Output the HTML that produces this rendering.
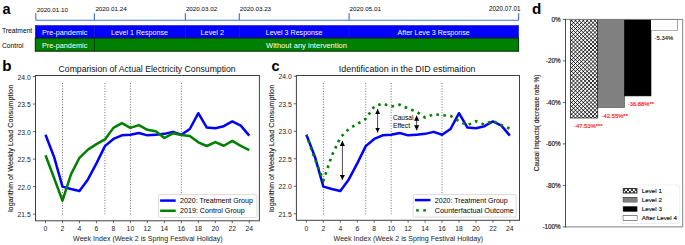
<!DOCTYPE html>
<html><head><meta charset="utf-8"><title>figure</title>
<style>
html,body{margin:0;padding:0;background:#fff;}
body{width:685px;height:245px;overflow:hidden;font-family:"Liberation Sans",sans-serif;}
svg{display:block;}
text{font-family:"Liberation Sans",sans-serif;}
</style></head><body>
<svg width="685" height="245" viewBox="0 0 685 245">
<defs>
<marker id="ah" viewBox="0 0 10 10" refX="10" refY="5" markerWidth="5.1" markerHeight="5.1" markerUnits="userSpaceOnUse" orient="auto-start-reverse"><path d="M0 0 L10 5 L0 10 Z" fill="#000"/></marker>
</defs>
<rect width="685" height="245" fill="#fff"/>

<g id="panel-a">
<text x="2.6" y="13.6" font-size="14.5" font-weight="bold" fill="#000">a</text>
<path d="M35.8 20.2 H518.6 M35.8 13.2 V20.2 M94.4 13.2 V20.2 M185.4 13.2 V20.2 M239.3 13.2 V20.2 M349.1 13.2 V20.2 M518.6 13.2 V20.2" stroke="#4472c4" stroke-width="1.15" fill="none"/>
<text x="36.7" y="11.9" font-size="6.25" fill="#000">2020.01.10</text>
<text x="95.4" y="11.2" font-size="6.25" fill="#000">2020.01.24</text>
<text x="185.9" y="10.6" font-size="6.25" fill="#000">2020.03.02</text>
<text x="239.8" y="10.6" font-size="6.25" fill="#000">2020.03.23</text>
<text x="349.6" y="10.6" font-size="6.25" fill="#000">2020.05.01</text>
<text x="520.4" y="11.3" font-size="6.3" text-anchor="end" fill="#000">2020.07.01</text>
<rect x="35.3" y="25.5" width="483.3" height="12.6" fill="#0000ff" stroke="#1414b4" stroke-width="0.6"/>
<rect x="35.3" y="38.1" width="483.3" height="13.1" fill="#008000" stroke="#042604" stroke-width="1"/>
<path d="M94.4 25.5 V38.1 M185.4 25.5 V38.1 M239.3 25.5 V38.1 M349.1 25.5 V38.1" stroke="#2323b8" stroke-width="0.8"/>
<path d="M94.4 38.1 V51.2" stroke="#063006" stroke-width="0.9"/>
<text x="2.0" y="33.2" font-size="6.7" fill="#000">Treatment</text>
<text x="2.0" y="48.0" font-size="6.7" fill="#000">Control</text>
<text x="64.6" y="34.9" font-size="7.30" text-anchor="middle" fill="#fff">Pre-pandemic</text>
<text x="139.5" y="34.9" font-size="7.10" text-anchor="middle" fill="#fff">Level 1 Response</text>
<text x="212.3" y="34.9" font-size="7.30" text-anchor="middle" fill="#fff">Level 2</text>
<text x="294.1" y="34.9" font-size="7.10" text-anchor="middle" fill="#fff">Level 3 Response</text>
<text x="433.6" y="34.9" font-size="7.10" text-anchor="middle" fill="#fff">After Leve 3 Response</text>
<text x="64.6" y="47.6" font-size="7.30" text-anchor="middle" fill="#fff">Pre-pandemic</text>
<text x="306.5" y="47.6" font-size="7.55" text-anchor="middle" fill="#fff">Without any intervention</text>
</g>
<g>
<text x="2.3" y="71.4" font-size="15.2" font-weight="bold" fill="#000">b</text>
<text x="147.1" y="72.3" font-size="8.67" text-anchor="middle" fill="#111">Comparision of Actual Electricity Consumption</text>
<path d="M62.48 83 V214.3" stroke="#606060" stroke-width="0.9" stroke-dasharray="1 1.66" fill="none"/>
<path d="M104.93 83 V214.3" stroke="#606060" stroke-width="0.9" stroke-dasharray="1 1.66" fill="none"/>
<path d="M130.40 83 V214.3" stroke="#606060" stroke-width="0.9" stroke-dasharray="1 1.66" fill="none"/>
<path d="M181.34 83 V214.3" stroke="#606060" stroke-width="0.9" stroke-dasharray="1 1.66" fill="none"/>
<path d="M45.50 134.69 L53.99 156.68 L62.48 186.60 L70.97 189.04 L79.46 191.03 L87.95 179.40 L96.44 163.33 L104.93 146.16 L113.42 138.96 L121.91 135.35 L130.40 134.69 L138.89 133.08 L147.38 135.35 L155.87 134.69 L164.36 133.86 L172.85 131.86 L181.34 134.75 L189.83 128.98 L198.32 113.20 L206.81 127.60 L215.30 128.21 L223.79 126.21 L232.28 121.45 L240.77 125.66 L249.26 135.63" stroke="#0000ff" stroke-width="2.5" fill="none" stroke-linejoin="round"/>
<path d="M45.50 155.19 L53.99 177.74 L62.48 200.73 L70.97 174.41 L79.46 157.79 L87.95 149.65 L96.44 144.11 L104.93 139.40 L113.42 127.88 L121.91 123.06 L130.40 127.88 L138.89 125.11 L147.38 129.82 L155.87 131.20 L164.36 138.01 L172.85 133.31 L181.34 135.08 L189.83 135.96 L198.32 142.28 L206.81 145.99 L215.30 142.11 L223.79 145.77 L232.28 140.95 L240.77 145.94 L249.26 150.04" stroke="#008000" stroke-width="2.5" fill="none" stroke-linejoin="round"/>
<rect x="35.5" y="75.5" width="223.9" height="145.3" fill="none" stroke="#404040" stroke-width="1"/>
<path d="M35.5 214.15 h-2.6" stroke="#404040" stroke-width="0.8"/>
<text x="30.8" y="217.35" font-size="6.8" text-anchor="end" fill="#222">21.5</text>
<path d="M35.5 186.62 h-2.6" stroke="#404040" stroke-width="0.8"/>
<text x="30.8" y="189.82" font-size="6.8" text-anchor="end" fill="#222">22.0</text>
<path d="M35.5 159.10 h-2.6" stroke="#404040" stroke-width="0.8"/>
<text x="30.8" y="162.30" font-size="6.8" text-anchor="end" fill="#222">22.5</text>
<path d="M35.5 131.57 h-2.6" stroke="#404040" stroke-width="0.8"/>
<text x="30.8" y="134.77" font-size="6.8" text-anchor="end" fill="#222">23.0</text>
<path d="M35.5 104.05 h-2.6" stroke="#404040" stroke-width="0.8"/>
<text x="30.8" y="107.25" font-size="6.8" text-anchor="end" fill="#222">23.5</text>
<path d="M35.5 76.53 h-2.6" stroke="#404040" stroke-width="0.8"/>
<text x="30.8" y="79.73" font-size="6.8" text-anchor="end" fill="#222">24.0</text>
<path d="M45.50 220.8 v2.4" stroke="#404040" stroke-width="0.8"/>
<text x="45.50" y="230.8" font-size="6.8" text-anchor="middle" fill="#222">0</text>
<path d="M62.48 220.8 v2.4" stroke="#404040" stroke-width="0.8"/>
<text x="62.48" y="230.8" font-size="6.8" text-anchor="middle" fill="#222">2</text>
<path d="M79.46 220.8 v2.4" stroke="#404040" stroke-width="0.8"/>
<text x="79.46" y="230.8" font-size="6.8" text-anchor="middle" fill="#222">4</text>
<path d="M96.44 220.8 v2.4" stroke="#404040" stroke-width="0.8"/>
<text x="96.44" y="230.8" font-size="6.8" text-anchor="middle" fill="#222">6</text>
<path d="M113.42 220.8 v2.4" stroke="#404040" stroke-width="0.8"/>
<text x="113.42" y="230.8" font-size="6.8" text-anchor="middle" fill="#222">8</text>
<path d="M130.40 220.8 v2.4" stroke="#404040" stroke-width="0.8"/>
<text x="130.40" y="230.8" font-size="6.8" text-anchor="middle" fill="#222">10</text>
<path d="M147.38 220.8 v2.4" stroke="#404040" stroke-width="0.8"/>
<text x="147.38" y="230.8" font-size="6.8" text-anchor="middle" fill="#222">12</text>
<path d="M164.36 220.8 v2.4" stroke="#404040" stroke-width="0.8"/>
<text x="164.36" y="230.8" font-size="6.8" text-anchor="middle" fill="#222">14</text>
<path d="M181.34 220.8 v2.4" stroke="#404040" stroke-width="0.8"/>
<text x="181.34" y="230.8" font-size="6.8" text-anchor="middle" fill="#222">16</text>
<path d="M198.32 220.8 v2.4" stroke="#404040" stroke-width="0.8"/>
<text x="198.32" y="230.8" font-size="6.8" text-anchor="middle" fill="#222">18</text>
<path d="M215.30 220.8 v2.4" stroke="#404040" stroke-width="0.8"/>
<text x="215.30" y="230.8" font-size="6.8" text-anchor="middle" fill="#222">20</text>
<path d="M232.28 220.8 v2.4" stroke="#404040" stroke-width="0.8"/>
<text x="232.28" y="230.8" font-size="6.8" text-anchor="middle" fill="#222">22</text>
<path d="M249.26 220.8 v2.4" stroke="#404040" stroke-width="0.8"/>
<text x="249.26" y="230.8" font-size="6.8" text-anchor="middle" fill="#222">24</text>
<text x="147.9" y="240.6" font-size="7.1" text-anchor="middle" fill="#222">Week Index (Week 2 is Spring Festival Holiday)</text>
<text transform="translate(13.3 148.4) rotate(-90)" font-size="7.3" text-anchor="middle" fill="#222" stroke="#222" stroke-width="0.12">logarithm of Weekly Load Consumption</text>
<rect x="158.4" y="194.6" width="98.6" height="22.9" rx="1.2" fill="#fff" fill-opacity="0.85" stroke="#ccc" stroke-width="0.7"/>
<path d="M160.1 200.6 h15.6" stroke="#0000ff" stroke-width="2.5"/>
<path d="M160.1 210.8 h15.6" stroke="#008000" stroke-width="2.5"/>
<text x="180.0" y="203.1" font-size="7.05" fill="#000">2020: Treatment Group</text>
<text x="180.0" y="213.4" font-size="7.15" fill="#000">2019: Control Group</text>
</g>
<g>
<text x="271.4" y="71.4" font-size="14.5" font-weight="bold" fill="#000">c</text>
<text x="407.2" y="71.5" font-size="8.90" text-anchor="middle" fill="#111">Identification in the DID estimaition</text>
<path d="M323.36 83 V214.3" stroke="#606060" stroke-width="0.9" stroke-dasharray="1 1.66" fill="none"/>
<path d="M365.75 83 V214.3" stroke="#606060" stroke-width="0.9" stroke-dasharray="1 1.66" fill="none"/>
<path d="M391.18 83 V214.3" stroke="#606060" stroke-width="0.9" stroke-dasharray="1 1.66" fill="none"/>
<path d="M442.05 83 V214.3" stroke="#606060" stroke-width="0.9" stroke-dasharray="1 1.66" fill="none"/>
<path d="M306.40 134.69 L314.88 156.68 L323.36 186.60 L331.83 189.04 L340.31 191.03 L348.79 179.40 L357.27 163.33 L365.75 146.16 L374.22 138.96 L382.70 135.35 L391.18 134.69 L399.66 133.08 L408.14 135.35 L416.61 134.69 L425.09 133.86 L433.57 131.86 L442.05 134.75 L450.53 128.98 L459.00 113.20 L467.48 127.60 L475.96 128.21 L484.44 126.21 L492.92 121.45 L501.39 125.66 L509.87 135.63" stroke="#0000ff" stroke-width="2.5" fill="none" stroke-linejoin="round" stroke-linecap="butt"/>
<path d="M306.40 134.80 L314.88 158.90 L323.36 180.51 L331.83 155.58 L340.31 137.57 L348.79 128.98 L357.27 124.00 L365.75 118.73 L374.22 106.49 L382.70 103.50 L391.18 106.49 L399.66 104.72 L408.14 108.49 L416.61 111.70 L425.09 117.63 L433.57 114.30 L442.05 115.13 L450.53 115.85 L459.00 121.23 L467.48 125.27 L475.96 121.23 L484.44 124.55 L492.92 120.95 L501.39 125.11 L509.87 128.71" stroke="#008000" stroke-width="2.6" fill="none" stroke-dasharray="2.6 4.4" stroke-dashoffset="1.0" stroke-linecap="butt"/>
<rect x="296.4" y="75.5" width="223.1" height="144.8" fill="none" stroke="#404040" stroke-width="1"/>
<path d="M296.4 213.75 h-2.6" stroke="#404040" stroke-width="0.8"/>
<text x="291.7" y="216.95" font-size="6.8" text-anchor="end" fill="#222">21.5</text>
<path d="M296.4 186.25 h-2.6" stroke="#404040" stroke-width="0.8"/>
<text x="291.7" y="189.45" font-size="6.8" text-anchor="end" fill="#222">22.0</text>
<path d="M296.4 158.75 h-2.6" stroke="#404040" stroke-width="0.8"/>
<text x="291.7" y="161.95" font-size="6.8" text-anchor="end" fill="#222">22.5</text>
<path d="M296.4 131.25 h-2.6" stroke="#404040" stroke-width="0.8"/>
<text x="291.7" y="134.45" font-size="6.8" text-anchor="end" fill="#222">23.0</text>
<path d="M296.4 103.75 h-2.6" stroke="#404040" stroke-width="0.8"/>
<text x="291.7" y="106.95" font-size="6.8" text-anchor="end" fill="#222">23.5</text>
<path d="M296.4 76.25 h-2.6" stroke="#404040" stroke-width="0.8"/>
<text x="291.7" y="79.45" font-size="6.8" text-anchor="end" fill="#222">24.0</text>
<path d="M306.40 220.3 v2.4" stroke="#404040" stroke-width="0.8"/>
<text x="306.40" y="230.8" font-size="6.8" text-anchor="middle" fill="#222">0</text>
<path d="M323.36 220.3 v2.4" stroke="#404040" stroke-width="0.8"/>
<text x="323.36" y="230.8" font-size="6.8" text-anchor="middle" fill="#222">2</text>
<path d="M340.31 220.3 v2.4" stroke="#404040" stroke-width="0.8"/>
<text x="340.31" y="230.8" font-size="6.8" text-anchor="middle" fill="#222">4</text>
<path d="M357.27 220.3 v2.4" stroke="#404040" stroke-width="0.8"/>
<text x="357.27" y="230.8" font-size="6.8" text-anchor="middle" fill="#222">6</text>
<path d="M374.22 220.3 v2.4" stroke="#404040" stroke-width="0.8"/>
<text x="374.22" y="230.8" font-size="6.8" text-anchor="middle" fill="#222">8</text>
<path d="M391.18 220.3 v2.4" stroke="#404040" stroke-width="0.8"/>
<text x="391.18" y="230.8" font-size="6.8" text-anchor="middle" fill="#222">10</text>
<path d="M408.14 220.3 v2.4" stroke="#404040" stroke-width="0.8"/>
<text x="408.14" y="230.8" font-size="6.8" text-anchor="middle" fill="#222">12</text>
<path d="M425.09 220.3 v2.4" stroke="#404040" stroke-width="0.8"/>
<text x="425.09" y="230.8" font-size="6.8" text-anchor="middle" fill="#222">14</text>
<path d="M442.05 220.3 v2.4" stroke="#404040" stroke-width="0.8"/>
<text x="442.05" y="230.8" font-size="6.8" text-anchor="middle" fill="#222">16</text>
<path d="M459.00 220.3 v2.4" stroke="#404040" stroke-width="0.8"/>
<text x="459.00" y="230.8" font-size="6.8" text-anchor="middle" fill="#222">18</text>
<path d="M475.96 220.3 v2.4" stroke="#404040" stroke-width="0.8"/>
<text x="475.96" y="230.8" font-size="6.8" text-anchor="middle" fill="#222">20</text>
<path d="M492.92 220.3 v2.4" stroke="#404040" stroke-width="0.8"/>
<text x="492.92" y="230.8" font-size="6.8" text-anchor="middle" fill="#222">22</text>
<path d="M509.87 220.3 v2.4" stroke="#404040" stroke-width="0.8"/>
<text x="509.87" y="230.8" font-size="6.8" text-anchor="middle" fill="#222">24</text>
<text x="408.4" y="240.6" font-size="7.1" text-anchor="middle" fill="#222">Week Index (Week 2 is Spring Festival Holiday)</text>
<text transform="translate(274.2 148.4) rotate(-90)" font-size="7.3" text-anchor="middle" fill="#222" stroke="#222" stroke-width="0.12">logarithm of Weekly Load Consumption</text>
<rect x="413.2" y="194.6" width="103.0" height="22.5" rx="1.2" fill="#fff" fill-opacity="0.85" stroke="#ccc" stroke-width="0.7"/>
<path d="M414.9 200.1 h15.6" stroke="#0000ff" stroke-width="2.5"/>
<rect x="416.2" y="209.1" width="2.5" height="2.5" fill="#008000"/><rect x="423.3" y="209.1" width="2.5" height="2.5" fill="#008000"/>
<text x="434.8" y="202.6" font-size="7.05" fill="#000">2020: Treatment Group</text>
<text x="434.8" y="212.9" font-size="7.3" fill="#000">Counterfactual Outcome</text>
</g>
<g stroke="#000" stroke-width="0.7" fill="none">
<path d="M342.4 140.8 V180.0" marker-start="url(#ah)" marker-end="url(#ah)"/>
<path d="M377.6 109.0 V132.6" marker-start="url(#ah)" marker-end="url(#ah)"/>
<path d="M416.65 115.6 V130.4" marker-start="url(#ah)" marker-end="url(#ah)"/>
</g>
<text x="392.9" y="119.9" font-size="6.6" fill="#000">Causal</text>
<text x="392.9" y="127.9" font-size="6.8" fill="#000">Effect</text>
<g id="panel-d" style="paint-order:stroke">
<text x="531.9" y="13.6" font-size="15.2" font-weight="bold" fill="#000">d</text>
<clipPath id="hc1"><rect x="570.40" y="19.40" width="27.40" height="98.62"/></clipPath>
<rect x="570.40" y="19.40" width="27.40" height="98.62" fill="#fff"/>
<path clip-path="url(#hc1)" d="M569.40 123.59 L598.80 152.99M569.40 119.70 L598.80 149.10M569.40 115.81 L598.80 145.21M569.40 111.92 L598.80 141.32M569.40 108.03 L598.80 137.43M569.40 104.14 L598.80 133.54M569.40 100.25 L598.80 129.65M569.40 96.36 L598.80 125.76M569.40 92.47 L598.80 121.87M569.40 88.58 L598.80 117.98M569.40 84.69 L598.80 114.09M569.40 80.80 L598.80 110.20M569.40 76.91 L598.80 106.31M569.40 73.02 L598.80 102.42M569.40 69.13 L598.80 98.53M569.40 65.24 L598.80 94.64M569.40 61.35 L598.80 90.75M569.40 57.46 L598.80 86.86M569.40 53.57 L598.80 82.97M569.40 49.68 L598.80 79.08M569.40 45.79 L598.80 75.19M569.40 41.90 L598.80 71.30M569.40 38.01 L598.80 67.41M569.40 34.12 L598.80 63.52M569.40 30.23 L598.80 59.63M569.40 26.34 L598.80 55.74M569.40 22.45 L598.80 51.85M569.40 18.56 L598.80 47.96M569.40 14.67 L598.80 44.07M569.40 10.78 L598.80 40.18M569.40 6.89 L598.80 36.29M569.40 3.00 L598.80 32.40M569.40 -0.89 L598.80 28.51M569.40 -4.78 L598.80 24.62M569.40 -8.67 L598.80 20.73M569.40 -12.56 L598.80 16.84M569.40 -16.45 L598.80 12.95M569.40 15.18 L598.80 -14.22M569.40 19.07 L598.80 -10.33M569.40 22.96 L598.80 -6.44M569.40 26.85 L598.80 -2.55M569.40 30.74 L598.80 1.34M569.40 34.63 L598.80 5.23M569.40 38.52 L598.80 9.12M569.40 42.41 L598.80 13.01M569.40 46.30 L598.80 16.90M569.40 50.19 L598.80 20.79M569.40 54.08 L598.80 24.68M569.40 57.97 L598.80 28.57M569.40 61.86 L598.80 32.46M569.40 65.75 L598.80 36.35M569.40 69.64 L598.80 40.24M569.40 73.53 L598.80 44.13M569.40 77.42 L598.80 48.02M569.40 81.31 L598.80 51.91M569.40 85.20 L598.80 55.80M569.40 89.09 L598.80 59.69M569.40 92.98 L598.80 63.58M569.40 96.87 L598.80 67.47M569.40 100.76 L598.80 71.36M569.40 104.65 L598.80 75.25M569.40 108.54 L598.80 79.14M569.40 112.43 L598.80 83.03M569.40 116.32 L598.80 86.92M569.40 120.21 L598.80 90.81M569.40 124.10 L598.80 94.70M569.40 127.99 L598.80 98.59M569.40 131.88 L598.80 102.48M569.40 135.77 L598.80 106.37M569.40 139.66 L598.80 110.26M569.40 143.55 L598.80 114.15M569.40 147.44 L598.80 118.04M569.40 151.33 L598.80 121.93" stroke="#000" stroke-width="0.85" fill="none"/>
<rect x="570.4" y="19.4" width="27.4" height="98.62" fill="none" stroke="#000" stroke-width="0.6"/>
<rect x="597.8" y="19.4" width="26.7" height="88.29" fill="#808080" stroke="#000" stroke-width="0.6"/>
<rect x="624.5" y="19.4" width="26.5" height="76.53" fill="#000" stroke="#000" stroke-width="0.6"/>
<rect x="651.0" y="19.4" width="26.4" height="11.08" fill="#fff" stroke="#000" stroke-width="0.6"/>
<path d="M565.5 19.4 H682.7 V226.9 H565.5" fill="none" stroke="#808080" stroke-width="1"/>
<path d="M565.5 18.9 V227.4" fill="none" stroke="#3a3a3a" stroke-width="0.9"/>
<path d="M565.5 19.40 h-2.6" stroke="#333" stroke-width="0.8"/>
<text x="560.6" y="21.70" font-size="6.3" text-anchor="end" fill="#111" stroke="#111" stroke-width="0.15">0%</text>
<path d="M565.5 60.90 h-2.6" stroke="#333" stroke-width="0.8"/>
<text x="560.6" y="63.20" font-size="6.3" text-anchor="end" fill="#111" stroke="#111" stroke-width="0.15">-20%</text>
<path d="M565.5 102.40 h-2.6" stroke="#333" stroke-width="0.8"/>
<text x="560.6" y="104.70" font-size="6.3" text-anchor="end" fill="#111" stroke="#111" stroke-width="0.15">-40%</text>
<path d="M565.5 143.90 h-2.6" stroke="#333" stroke-width="0.8"/>
<text x="560.6" y="146.20" font-size="6.3" text-anchor="end" fill="#111" stroke="#111" stroke-width="0.15">-60%</text>
<path d="M565.5 185.40 h-2.6" stroke="#333" stroke-width="0.8"/>
<text x="560.6" y="187.70" font-size="6.3" text-anchor="end" fill="#111" stroke="#111" stroke-width="0.15">-80%</text>
<path d="M565.5 226.90 h-2.6" stroke="#333" stroke-width="0.8"/>
<text x="560.6" y="229.20" font-size="6.3" text-anchor="end" fill="#111" stroke="#111" stroke-width="0.15">-100%</text>
<text transform="translate(538.9 122.9) rotate(-90)" font-size="6.4" text-anchor="middle" fill="#111" stroke="#111" stroke-width="0.12">Causal Impacts( decrease rate %)</text>
<text x="654.6" y="39.9" font-size="5.85" fill="#111" stroke="#111" stroke-width="0.12">-5.34%</text>
<text x="627.8" y="105.5" font-size="5.85" fill="#ff0000" stroke="#ff0000" stroke-width="0.12">-36.88%**</text>
<text x="601.6" y="117.6" font-size="5.85" fill="#ff0000" stroke="#ff0000" stroke-width="0.12">-42.55%**</text>
<text x="574.0" y="128.1" font-size="5.85" fill="#ff0000" stroke="#ff0000" stroke-width="0.12">-47.53%***</text>
<rect x="621.3" y="185.3" width="58.3" height="37.7" rx="1.4" fill="#fff" stroke="#d4d4d4" stroke-width="0.8"/>
<clipPath id="hc2"><rect x="623.30" y="188.60" width="13.60" height="4.40"/></clipPath>
<rect x="623.30" y="188.60" width="13.60" height="4.40" fill="#fff"/>
<path clip-path="url(#hc2)" d="M622.30 195.94 L637.90 211.54M622.30 192.05 L637.90 207.65M622.30 188.16 L637.90 203.76M622.30 184.27 L637.90 199.87M622.30 180.38 L637.90 195.98M622.30 176.49 L637.90 192.09M622.30 172.60 L637.90 188.20M622.30 168.71 L637.90 184.31M622.30 184.01 L637.90 168.41M622.30 187.90 L637.90 172.30M622.30 191.79 L637.90 176.19M622.30 195.68 L637.90 180.08M622.30 199.57 L637.90 183.97M622.30 203.46 L637.90 187.86M622.30 207.35 L637.90 191.75M622.30 211.24 L637.90 195.64M622.30 215.13 L637.90 199.53" stroke="#000" stroke-width="0.85" fill="none"/>
<rect x="623.3" y="188.6" width="13.6" height="4.4" fill="none" stroke="#222" stroke-width="0.95"/>
<text x="641.8" y="193.1" font-size="6.25" fill="#111" stroke="#111" stroke-width="0.15">Level 1</text>
<rect x="623.3" y="197.5" width="13.6" height="4.4" fill="#808080" stroke="#222" stroke-width="0.95"/>
<text x="641.8" y="201.9" font-size="6.25" fill="#111" stroke="#111" stroke-width="0.15">Level 2</text>
<rect x="623.3" y="206.8" width="13.6" height="4.4" fill="#000" stroke="#222" stroke-width="0.95"/>
<text x="641.8" y="211.2" font-size="6.25" fill="#111" stroke="#111" stroke-width="0.15">Level 3</text>
<rect x="623.3" y="215.7" width="13.6" height="4.4" fill="#fff" stroke="#222" stroke-width="0.95"/>
<text x="641.8" y="220.2" font-size="6.25" fill="#111" stroke="#111" stroke-width="0.15">After Level 4</text>
</g>
</svg></body></html>
